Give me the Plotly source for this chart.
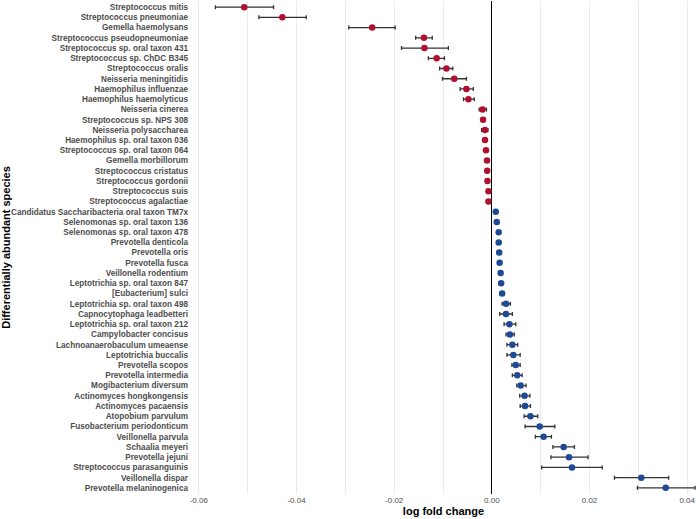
import plotly.graph_objects as go

# Espèces (ordre du haut vers le bas)
species = [
    "Streptococcus mitis", "Streptococcus pneumoniae", "Gemella haemolysans",
    "Streptococcus pseudopneumoniae", "Streptococcus sp. oral taxon 431",
    "Streptococcus sp. ChDC B345", "Streptococcus oralis", "Neisseria meningitidis",
    "Haemophilus influenzae", "Haemophilus haemolyticus", "Neisseria cinerea",
    "Streptococcus sp. NPS 308", "Neisseria polysaccharea",
    "Haemophilus sp. oral taxon 036", "Streptococcus sp. oral taxon 064",
    "Gemella morbillorum", "Streptococcus cristatus", "Streptococcus gordonii",
    "Streptococcus suis", "Streptococcus agalactiae",
    "Candidatus Saccharibacteria oral taxon TM7x", "Selenomonas sp. oral taxon 136",
    "Selenomonas sp. oral taxon 478", "Prevotella denticola", "Prevotella oris",
    "Prevotella fusca", "Veillonella rodentium", "Leptotrichia sp. oral taxon 847",
    "[Eubacterium] sulci", "Leptotrichia sp. oral taxon 498",
    "Capnocytophaga leadbetteri", "Leptotrichia sp. oral taxon 212",
    "Campylobacter concisus", "Lachnoanaerobaculum umeaense", "Leptotrichia buccalis",
    "Prevotella scopos", "Prevotella intermedia", "Mogibacterium diversum",
    "Actinomyces hongkongensis", "Actinomyces pacaensis", "Atopobium parvulum",
    "Fusobacterium periodonticum", "Veillonella parvula", "Schaalia meyeri",
    "Prevotella jejuni", "Streptococcus parasanguinis", "Veillonella dispar",
    "Prevotella melaninogenica",
]

lfc = [
    -0.0507, -0.0429, -0.0245, -0.0139, -0.0138, -0.0113, -0.0093, -0.0077,
    -0.0052, -0.0048, -0.0019, -0.0018, -0.0014, -0.0014, -0.0012, -0.0010,
    -0.00095, -0.0009, -0.0007, -0.0007,
    0.0008, 0.0010, 0.0014, 0.0014, 0.0015, 0.0016, 0.0018, 0.0019, 0.0021,
    0.0029, 0.0029, 0.0036, 0.0037, 0.0042, 0.0044, 0.0049, 0.0052, 0.0059,
    0.0067, 0.0068, 0.0079, 0.0098, 0.0106, 0.0147, 0.0158, 0.0164, 0.0306,
    0.0356,
]

lower = [
    -0.0566, -0.0477, -0.0293, -0.0156, -0.0185, -0.0130, -0.0107, -0.0101,
    -0.0065, -0.0058, -0.0026, -0.0021, -0.0021, -0.0016, -0.0014, -0.0012,
    -0.0011, -0.0011, -0.0009, -0.0009,
    0.0006, 0.0008, 0.0012, 0.0012, 0.0013, 0.0014, 0.0015, 0.0015, 0.0017,
    0.0021, 0.0016, 0.0025, 0.0029, 0.0031, 0.0031, 0.0041, 0.0042, 0.0051,
    0.0057, 0.0058, 0.0066, 0.0068, 0.0089, 0.0125, 0.0121, 0.0102, 0.0251,
    0.0298,
]

upper = [
    -0.0447, -0.0380, -0.0198, -0.0122, -0.0089, -0.0097, -0.0080, -0.0052,
    -0.0038, -0.0036, -0.0011, -0.0015, -0.0008, -0.0012, -0.0010, -0.0008,
    -0.0008, -0.0007, -0.0005, -0.0005,
    0.0010, 0.0012, 0.0016, 0.0016, 0.0017, 0.0018, 0.0021, 0.0023, 0.0025,
    0.0038, 0.0042, 0.0049, 0.0046, 0.0053, 0.0058, 0.0058, 0.0062, 0.0070,
    0.0078, 0.0079, 0.0094, 0.0129, 0.0122, 0.0169, 0.0197, 0.0226, 0.0362,
    0.0416,
]

x_tickvals = [-0.06, -0.04, -0.02, 0.0, 0.02, 0.04]
x_ticktext = ["-0.06", "-0.04", "-0.02", "0.00", "0.02", "0.04"]

colors = ["#B0102F" if v < 0 else "#1E4A95" for v in lfc]

fig = go.Figure()

fig.add_trace(go.Scatter(
    x=lfc,
    y=species,
    mode="markers",
    marker={"size": 6.5, "color": colors},
    error_x={
        "type": "data",
        "symmetric": False,
        "array": [u - v for u, v in zip(upper, lfc)],
        "arrayminus": [v - l for v, l in zip(lfc, lower)],
        "color": "#333333",
        "thickness": 1.3,
        "width": 2,
    },
    showlegend=False,
))

fig.update_xaxes(
    range=[-0.0616, 0.0418],
    tickvals=x_tickvals,
    ticktext=x_ticktext,
    tickfont={"family": "Liberation Sans", "size": 8, "color": "#4D4D4D"},
    showgrid=True,
    gridcolor="#EBEBEB",
    gridwidth=1,
    minor={"dtick": 0.01, "tick0": 0, "showgrid": True, "gridcolor": "#EBEBEB", "gridwidth": 1},
    zeroline=True,
    zerolinecolor="#000000",
    zerolinewidth=1.3,
    ticks="",
    title={"text": "log fold change", "standoff": 2,
           "font": {"family": "Liberation Sans", "size": 11, "color": "#000000", "weight": "bold"}},
)

fig.update_yaxes(
    categoryorder="array",
    categoryarray=species,
    range=[47.6, -0.6],
    showgrid=False,
    ticks="",
    ticklabelstandoff=2,
    tickfont={"family": "Liberation Sans", "size": 8.2, "color": "#4D4D4D", "weight": "bold"},
    title={"text": "Differentially abundant species", "standoff": 5,
           "font": {"family": "Liberation Sans", "size": 11, "color": "#000000", "weight": "bold"}},
)

fig.update_layout(
    width=696,
    height=519,
    margin={"l": 191, "r": 0, "t": 1, "b": 25, "autoexpand": False},
    plot_bgcolor="white",
    paper_bgcolor="white",
)

# la page HTML a une marge de 8 px par défaut : on la retire
fig.write_html("out.html", config={"displayModeBar": False},
               post_script="document.body.style.margin = '0';")
